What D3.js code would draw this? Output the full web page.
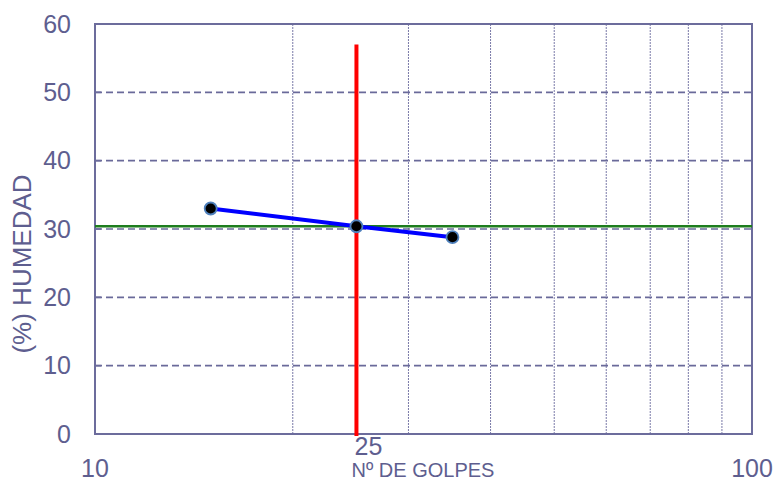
<!DOCTYPE html>
<html>
<head>
<meta charset="utf-8">
<script src="https://cdn.jsdelivr.net/npm/d3@7"></script>
<style>
  html, body { margin: 0; padding: 0; background: #fff; }
  svg { display: block; font-family: "Liberation Sans", Arial, sans-serif; }
</style>
</head>
<body>
<svg id="chart" width="773" height="481"></svg>
<script>
// Ensayo de límite líquido: número de golpes vs. contenido de humedad
const golpes = [15, 25, 35];
const humedad = [33.0, 30.4, 28.8];
const limiteLiquido = 30.4;      // humedad a 25 golpes
const golpesRef = 25;
const refTop = 57;               // altura de la línea vertical de referencia
const yTicks = [0, 10, 20, 30, 40, 50, 60];
const xGrid = [20, 30, 40, 50, 60, 70, 80, 90];
const xLabels = [10, 100];

const svg = d3.select("#chart");
const margin = { left: 95, right: 21, top: 24, bottom: 47 };
const W = 773, H = 481;
const x = d3.scaleLog().domain([10, 100]).range([margin.left, W - margin.right]);
const y = d3.scaleLinear().domain([0, 60]).range([H - margin.bottom, margin.top]);

const ink = "#5e5e8f";
const axisCol = "#6c6c9c";

// vertical gridlines (log)
svg.append("g").selectAll("line").data(xGrid).join("line")
  .attr("x1", d => x(d)).attr("x2", d => x(d))
  .attr("y1", y(0)).attr("y2", y(60))
  .attr("stroke", "#7a7aa8").attr("stroke-width", 1)
  .attr("stroke-dasharray", "2,1");

// horizontal dashed gridlines
svg.append("g").selectAll("line").data(yTicks.filter(d => d > 0)).join("line")
  .attr("x1", x(10)).attr("x2", x(100))
  .attr("y1", d => y(d)).attr("y2", d => y(d))
  .attr("stroke", "#6a6a9a").attr("stroke-width", 1.6)
  .attr("stroke-dasharray", "7,4");

// plot border
svg.append("rect")
  .attr("x", x(10)).attr("y", y(60))
  .attr("width", x(100) - x(10)).attr("height", y(0) - y(60))
  .attr("fill", "none").attr("stroke", axisCol).attr("stroke-width", 2);

// y tick labels
const yAxis = d3.axisLeft(y).tickValues(yTicks).tickSize(0).tickPadding(24);
const gy = svg.append("g").attr("transform", `translate(${x(10)},0)`).call(yAxis);
gy.select(".domain").remove();
gy.selectAll("text").attr("fill", ink).attr("font-size", 25)
  .attr("font-family", "Liberation Sans, Arial, sans-serif");
// y tick marks
svg.append("g").selectAll("line").data(yTicks).join("line")
  .attr("x1", x(10)).attr("x2", x(10) + 6)
  .attr("y1", d => y(d)).attr("y2", d => y(d))
  .attr("stroke", axisCol).attr("stroke-width", 1.6);

// x labels (10 and 100)
svg.append("g").selectAll("text").data(xLabels).join("text")
  .attr("x", d => x(d)).attr("y", 477)
  .attr("text-anchor", "middle").attr("fill", ink).attr("font-size", 25)
  .text(d => d);

// green line: límite líquido
svg.append("line")
  .attr("x1", x(10)).attr("x2", x(100))
  .attr("y1", y(limiteLiquido)).attr("y2", y(limiteLiquido))
  .attr("stroke", "#1e7d1e").attr("stroke-width", 2.5);

// red reference line at 25 golpes
svg.append("line")
  .attr("x1", x(golpesRef)).attr("x2", x(golpesRef))
  .attr("y1", y(0) + 2).attr("y2", y(refTop))
  .attr("stroke", "#ff0000").attr("stroke-width", 4);

// "25" label
svg.append("text")
  .attr("x", x(golpesRef) + 12).attr("y", 455)
  .attr("text-anchor", "middle").attr("fill", ink).attr("font-size", 25)
  .text(golpesRef);

// data line
const pts = golpes.map((g, i) => [g, humedad[i]]);
svg.append("path").datum(pts)
  .attr("fill", "none").attr("stroke", "#0000ff").attr("stroke-width", 4)
  .attr("d", d3.line().x(d => x(d[0])).y(d => y(d[1])));

svg.append("g").selectAll("circle").data(pts).join("circle")
  .attr("cx", d => x(d[0])).attr("cy", d => y(d[1])).attr("r", 6)
  .attr("fill", "#000").attr("stroke", "#4f81bd").attr("stroke-width", 1.8);

// axis titles
svg.append("text")
  .attr("x", 423).attr("y", 477)
  .attr("text-anchor", "middle").attr("fill", ink).attr("font-size", 20)
  .text("Nº DE GOLPES");

svg.append("text")
  .attr("transform", `translate(31,264) rotate(-90)`)
  .attr("text-anchor", "middle").attr("fill", ink).attr("font-size", 26)
  .text("(%) HUMEDAD");
</script>
</body>
</html>
